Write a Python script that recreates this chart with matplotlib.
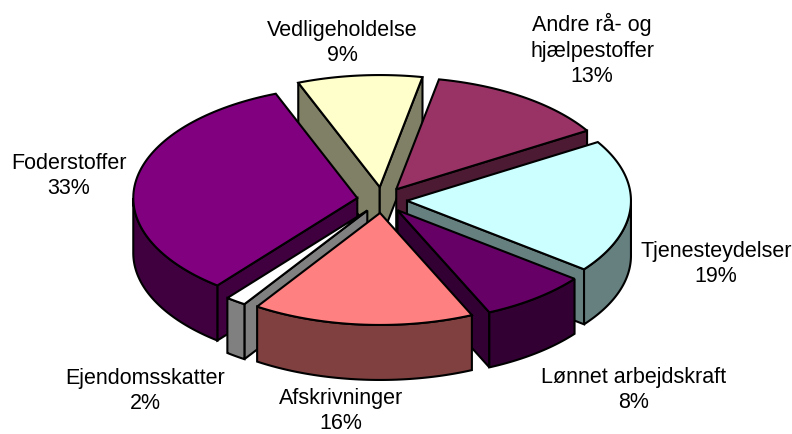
import numpy as np
import matplotlib
matplotlib.use("Agg")
import matplotlib.pyplot as plt
from matplotlib.patches import Polygon

# clockwise from start angle
names = ["Andre rå- og\nhjælpestoffer", "Tjenesteydelser", "Lønnet arbejdskraft", "Afskrivninger",
         "Ejendomsskatter", "Foderstoffer", "Vedligeholdelse"]
values = [13.2, 19.3, 7.8, 16.0, 1.5, 33.4, 9.0]
percent = [13, 19, 8, 16, 2, 33, 9]
top_colors = ["#993366", "#CCFFFF", "#660066", "#FF8080", "#FFFFFF", "#800080", "#FFFFCC"]
side_colors = ["#4D1A33", "#668080", "#330033", "#804040", "#808080", "#400040", "#808066"]
label_x = [592, 716, 634, 341, 145, 69, 342]
label_y = [50, 264, 390, 411, 391, 176, 43]

start = 11.0
cx, cy = 382, 200
rx, ry = 224, 112
ex, ey = 25, 13
depth = 55

fig = plt.figure(figsize=(7.92, 4.34), dpi=100)
ax = fig.add_axes([0, 0, 1, 1])
ax.set_xlim(0, 792)
ax.set_ylim(434, 0)
ax.axis("off")
plt.rcParams["font.family"] = ["Liberation Sans"]

angles = start + np.cumsum([0] + values) * 360.0 / sum(values)
slices = []
for i in range(len(values)):
    slices.append((angles[i], angles[i + 1], top_colors[i], side_colors[i]))
# back slices first
slices.sort(key=lambda s: -np.cos(np.radians((s[0] + s[1]) / 2)))

lw = 1.5
z = 1
for a0, a1, top, side in slices:
    mid = np.radians((a0 + a1) / 2)
    ax0 = cx + ex * np.sin(mid)
    ay0 = cy - ey * np.cos(mid)
    th = np.radians(np.linspace(a0, a1, 80))
    px = ax0 + rx * np.sin(th)
    py = ay0 - ry * np.cos(th)
    # cut faces, only those turned to the viewer
    for k, vis in ((0, np.sin(th[0]) < 0), (-1, np.sin(th[-1]) > 0)):
        if vis:
            face = [(ax0, ay0), (px[k], py[k]), (px[k], py[k] + depth), (ax0, ay0 + depth)]
            ax.add_patch(Polygon(face, closed=True, fc=side, ec="black", lw=lw, zorder=z))
            z += 1
    # outer wall, front half only
    lo = max(a0, 90)
    hi = min(a1, 270)
    if hi > lo:
        tw = np.radians(np.linspace(lo, hi, 80))
        wx = ax0 + rx * np.sin(tw)
        wy = ay0 - ry * np.cos(tw)
        wall = list(zip(wx, wy)) + list(zip(wx[::-1], wy[::-1] + depth))
        ax.add_patch(Polygon(wall, closed=True, fc=side, ec="black", lw=lw, zorder=z))
        z += 1
    # top
    pts = [(ax0, ay0)] + list(zip(px, py))
    ax.add_patch(Polygon(pts, closed=True, fc=top, ec="black", lw=lw, zorder=z))
    z += 1

for i in range(len(names)):
    ax.text(label_x[i], label_y[i], names[i] + "\n" + str(percent[i]) + "%", ha="center", va="center",
            fontsize=15.5, color="black", linespacing=1.3, zorder=z)

fig.savefig("out.png", dpi=100)
